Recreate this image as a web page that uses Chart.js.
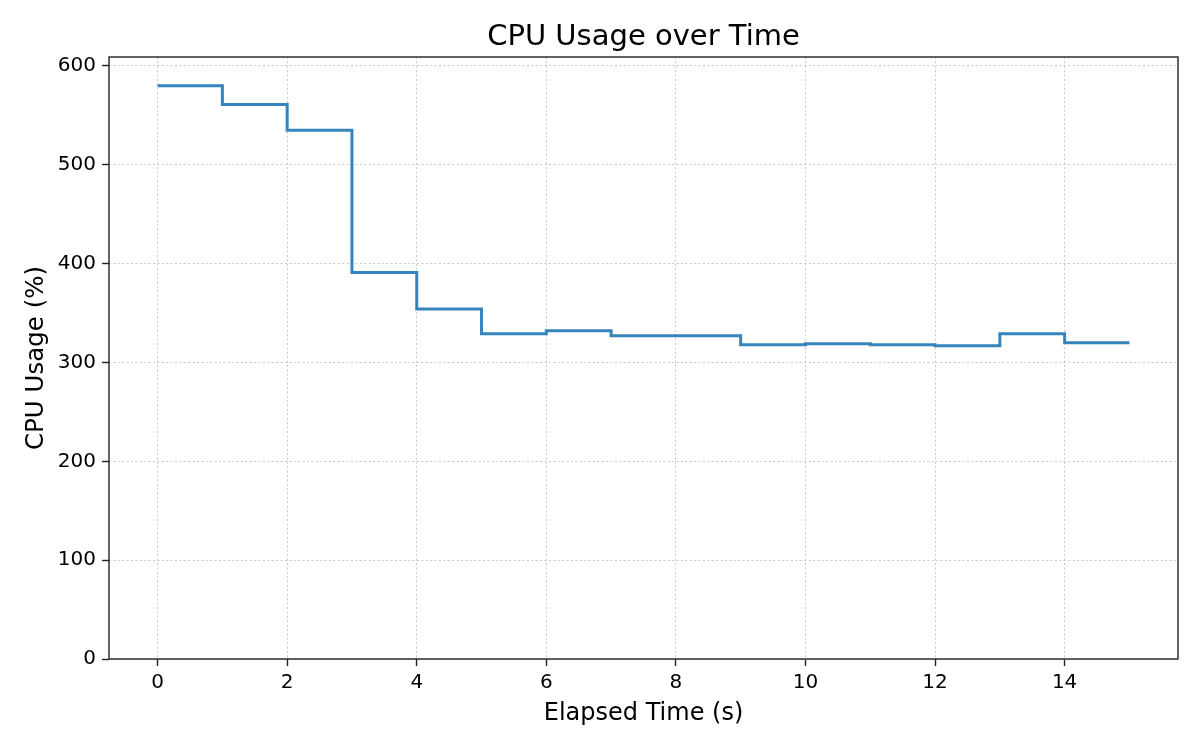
<!DOCTYPE html>
<html>
<head>
<meta charset="utf-8">
<script src="https://cdn.jsdelivr.net/npm/chart.js@4/dist/chart.umd.min.js"></script>
<style>
  html, body { margin: 0; padding: 0; background: #ffffff; }
  #wrap { width: 1200px; height: 750px; }
</style>
</head>
<body>
<div id="wrap"><canvas id="c" width="1200" height="750"></canvas></div>
<script>
const elapsedTime = [0, 1, 2, 3, 4, 5, 6, 7, 8, 9, 10, 11, 12, 13, 14, 15];
const cpuUsage = [580, 561, 535, 391, 354, 329, 332, 327, 327, 318, 319, 318, 317, 329, 320, 320];
const xTickValues = [0, 2, 4, 6, 8, 10, 12, 14];
const yTickValues = [0, 100, 200, 300, 400, 500, 600];

const FONT = "'DejaVu Sans', sans-serif";

const frame = {
  id: 'frame',
  afterDatasetsDraw(chart) {
    const a = chart.chartArea;
    const ctx = chart.ctx;
    ctx.save();
    ctx.strokeStyle = '#222222';
    ctx.lineWidth = 1.4;
    ctx.strokeRect(a.left, a.top, a.right - a.left, a.bottom - a.top);
    ctx.restore();
  }
};

new Chart(document.getElementById('c'), {
  type: 'line',
  data: {
    datasets: [{
      data: elapsedTime.map((t, i) => ({ x: t, y: cpuUsage[i] })),
      borderColor: 'rgba(31,119,180,0.9)',
      borderWidth: 3,
      stepped: 'before',
      pointRadius: 0,
      fill: false,
      borderJoinStyle: 'miter',
      borderCapStyle: 'butt'
    }]
  },
  options: {
    responsive: false,
    animation: false,
    devicePixelRatio: 1,
    layout: { padding: { left: 0, right: 22, top: 0, bottom: 0 } },
    plugins: {
      legend: { display: false },
      tooltip: { enabled: false },
      title: {
        display: true,
        text: 'CPU Usage over Time',
        color: '#000',
        fullSize: false,
        font: { family: FONT, size: 29, weight: 'normal' },
        padding: { top: 20.4, bottom: 1.8 }
      }
    },
    scales: {
      x: {
        type: 'linear',
        min: -0.75,
        max: 15.75,
        afterFit(s) { s.height = 91; },
        afterBuildTicks(s) { s.ticks = xTickValues.map(v => ({ value: v })); },
        ticks: {
          color: '#000',
          padding: 5,
          font: { family: FONT, size: 20 },
          maxRotation: 0,
          autoSkip: false
        },
        grid: {
          color: '#c8c8c8',
          lineWidth: 1,
          tickLength: 7,
          tickColor: '#222222',
          tickWidth: 1.4
        },
        border: { display: false, dash: [2, 2.4] },
        title: {
          display: true,
          text: 'Elapsed Time (s)',
          color: '#000',
          font: { family: FONT, size: 24 },
          padding: { top: 0, bottom: 22 }
        }
      },
      y: {
        type: 'linear',
        min: 0,
        max: 609,
        afterFit(s) { s.width = 109; },
        afterBuildTicks(s) { s.ticks = yTickValues.map(v => ({ value: v })); },
        ticks: {
          color: '#000',
          padding: 6,
          font: { family: FONT, size: 20 },
          autoSkip: false
        },
        grid: {
          color: '#c8c8c8',
          lineWidth: 1,
          tickLength: 7,
          tickColor: '#222222',
          tickWidth: 1.4
        },
        border: { display: false, dash: [2, 2.4] },
        title: {
          display: true,
          text: 'CPU Usage (%)',
          color: '#000',
          font: { family: FONT, size: 24.5 },
          padding: { top: 22, bottom: 0 }
        }
      }
    }
  },
  plugins: [frame]
});
</script>
</body>
</html>
